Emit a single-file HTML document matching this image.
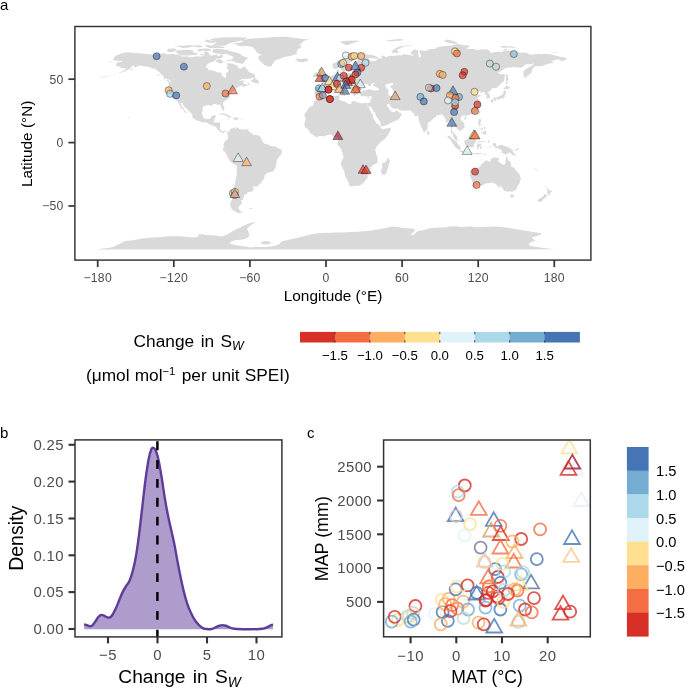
<!DOCTYPE html><html><head><meta charset="utf-8"><title>Figure</title><style>html,body{margin:0;padding:0;background:#fff}svg{display:block}text{font-family:"Liberation Sans",sans-serif}</style></head><body><div style="will-change:transform;width:685px;height:688px">
<svg width="685" height="688" viewBox="0 0 685 688">
<rect width="685" height="688" fill="#fff"/>
<clipPath id="ca"><rect x="74.9" y="26.5" width="516.0" height="233.6"/></clipPath>
<g clip-path="url(#ca)"><path d="M112.9,59.4L115.2,56.0L119.3,54.5L120.8,53.4L127.4,52.2L133.2,52.8L138.3,53.3L144.6,53.7L149.7,54.3L154.8,54.7L159.9,53.8L163.7,53.3L167.5,54.5L172.5,54.1L180.1,55.2L181.8,56.6L187.8,56.5L189.7,57.6L195.4,56.4L201.1,56.6L204.2,56.0L204.9,54.5L203.9,52.2L206.0,51.3L208.7,52.8L209.3,54.5L211.2,55.7L214.4,55.1L217.2,54.5L217.9,56.4L221.7,54.2L222.9,55.3L222.3,57.6L220.1,58.5L216.9,58.6L215.7,59.8L214.1,61.4L211.2,61.9L208.3,63.6L206.4,65.5L205.8,67.8L208.0,68.3L208.7,70.3L211.9,70.3L214.4,71.1L218.2,72.5L221.6,72.7L221.7,75.4L223.3,76.6L224.5,77.7L226.1,77.3L226.2,75.6L225.6,73.7L228.1,72.1L228.8,70.3L226.4,68.0L227.7,66.5L227.1,64.6L227.7,63.3L232.8,63.7L235.3,65.0L237.2,65.2L237.9,67.8L240.0,68.7L242.3,68.0L243.9,66.0L245.5,67.8L247.4,69.7L248.6,71.6L250.3,72.8L253.1,73.6L255.0,75.1L255.2,76.6L254.3,77.4L251.6,77.8L249.6,78.9L245.5,78.8L241.9,78.9L240.4,80.1L237.5,82.0L239.4,81.0L243.6,80.2L244.4,80.8L242.9,81.7L243.8,83.0L244.4,84.0L247.4,84.4L249.3,83.0L250.2,84.3L248.6,85.1L245.5,86.0L242.7,87.3L242.0,86.3L243.9,85.1L241.7,85.4L240.6,86.0L238.5,86.8L236.8,87.3L236.2,88.6L237.2,89.6L236.3,89.8L235.3,90.1L232.5,90.7L232.1,91.4L231.8,92.5L230.2,94.2L229.7,95.7L230.0,97.6L228.8,98.6L227.1,99.6L225.4,100.6L223.3,102.3L222.8,104.2L223.8,106.6L224.4,108.6L224.0,110.6L223.0,110.5L221.9,108.7L221.0,107.3L221.1,105.8L219.5,104.4L217.6,104.8L215.4,104.0L213.4,104.0L212.4,104.4L212.7,105.6L210.8,105.7L208.7,105.1L206.1,105.2L203.6,106.6L202.5,108.0L202.7,109.8L202.0,112.2L202.0,114.3L202.7,116.3L204.0,118.2L205.8,119.1L208.0,119.1L210.0,119.0L211.1,117.6L211.3,116.0L213.8,115.3L215.7,115.3L215.9,116.2L214.9,117.9L214.6,119.5L214.0,120.4L213.4,122.4L214.8,122.4L216.9,122.4L218.8,122.6L220.4,123.6L220.1,126.1L219.7,128.0L220.1,129.3L221.6,131.1L223.3,131.4L224.8,130.6L226.2,130.6L227.8,131.7L228.6,132.5L229.6,130.7L230.2,129.2L231.4,128.5L233.4,128.1L235.1,126.9L235.6,127.8L234.7,128.0L235.2,128.9L235.7,128.8L237.2,127.3L239.1,128.9L241.7,129.2L244.2,129.7L246.7,129.0L247.6,129.9L248.9,131.2L249.9,131.9L251.8,133.7L253.7,135.0L256.2,135.1L258.1,135.6L260.3,136.8L261.3,138.8L262.6,140.4L262.3,142.0L263.9,142.6L264.9,143.9L267.0,144.1L269.6,145.8L272.7,146.3L275.3,146.3L277.8,147.9L279.7,148.9L281.4,149.6L281.9,152.1L281.2,154.6L279.1,157.2L277.2,159.1L276.5,161.6L276.4,164.8L275.5,167.3L274.1,169.9L272.7,171.8L269.6,172.0L267.0,173.3L264.7,175.1L264.2,177.9L262.6,180.6L260.7,182.8L258.4,185.5L256.9,186.7L254.3,186.7L252.1,185.7L253.3,187.6L254.0,189.3L252.8,191.0L250.5,191.8L247.4,192.1L246.9,194.3L243.8,194.5L244.6,196.2L243.3,197.8L242.9,199.7L240.5,200.9L242.5,202.8L240.6,204.7L238.7,206.4L238.5,208.3L239.2,209.1L239.5,210.2L241.7,211.7L243.3,212.1L241.0,212.7L237.9,212.9L235.3,211.6L233.0,210.2L231.5,208.6L230.6,206.0L230.1,202.8L231.5,200.9L232.4,198.4L233.2,195.9L232.3,194.6L232.8,191.4L233.2,189.5L234.0,187.0L235.2,184.5L235.3,181.3L236.0,178.1L236.6,174.9L236.8,170.5L236.8,166.1L235.3,164.7L232.8,163.3L230.2,161.4L229.0,159.7L227.7,157.2L226.4,154.6L224.9,151.9L223.0,150.2L222.9,148.3L224.3,146.9L223.4,145.4L224.0,143.2L224.5,141.6L226.1,140.6L227.5,139.2L228.0,137.5L227.7,135.6L227.7,133.7L226.7,132.6L226.4,131.2L225.0,131.3L224.2,132.2L224.0,133.3L222.6,132.8L221.0,132.2L219.8,131.3L218.4,130.2L217.2,129.7L217.2,128.5L215.3,126.4L213.8,125.9L211.9,125.2L209.6,124.6L207.4,122.9L205.8,122.1L203.6,122.7L200.7,121.7L197.9,120.7L195.4,119.5L192.8,117.9L192.2,116.2L192.4,115.0L191.2,113.2L189.0,110.9L187.1,109.2L185.9,107.7L183.7,105.9L182.7,103.3L180.5,102.4L180.7,104.6L182.7,107.1L184.2,109.6L185.9,111.8L187.1,113.2L186.2,113.6L184.2,111.5L183.3,109.6L181.2,108.1L180.4,106.5L179.1,104.6L177.9,102.4L177.4,101.1L175.7,99.5L173.0,98.8L171.5,96.3L170.6,94.8L169.0,92.5L168.4,91.4L168.5,89.3L168.4,87.4L168.9,84.0L167.8,81.2L170.0,81.6L170.5,82.6L170.8,81.3L170.0,80.1L167.7,79.2L166.8,80.6L163.3,78.4L164.3,77.7L163.4,76.3L161.8,74.7L160.5,73.4L158.8,71.8L156.7,70.3L155.4,68.8L152.9,68.8L151.0,67.8L148.4,66.8L145.3,66.5L142.1,66.0L139.6,65.2L137.7,66.5L135.8,67.1L133.5,67.5L134.5,65.5L135.8,65.0L133.2,65.5L131.3,67.1L130.3,68.4L127.5,70.1L125.0,71.6L121.8,72.5L118.6,73.1L117.0,73.5L119.9,72.2L122.4,71.6L125.0,69.9L126.2,68.3L124.3,68.3L122.4,68.0L120.5,68.0L120.5,66.6L118.3,66.8L116.4,65.6L115.5,64.2L117.0,62.7L119.9,62.1L121.8,61.9L121.8,60.8L119.5,60.9L117.4,60.8L114.8,60.4L112.9,59.4ZM248.0,58.1L245.5,60.2L244.2,62.3L242.3,64.0L239.8,63.3L235.3,62.3L232.1,60.8L227.3,60.9L227.1,59.8L232.1,59.5L233.4,57.0L230.9,55.7L226.4,54.1L222.0,53.9L216.9,53.6L213.1,52.8L212.1,50.6L213.1,49.4L217.6,49.0L223.3,49.3L227.7,50.3L232.1,51.5L236.0,52.6L239.8,53.8L241.0,55.1L244.2,56.6L248.0,58.1ZM177.4,53.9L182.0,55.6L187.8,55.5L192.8,55.1L197.3,54.8L197.9,53.6L193.5,52.6L192.8,50.4L188.4,49.8L182.7,50.1L177.0,50.5L175.1,51.8L177.6,53.1L177.4,53.9ZM166.8,51.3L170.0,52.3L173.8,51.7L177.0,49.4L174.4,48.4L168.1,48.7L166.8,51.3ZM211.9,45.6L218.2,45.8L224.5,45.8L227.1,44.6L230.9,43.0L237.2,41.5L243.6,39.9L247.4,38.0L239.8,37.3L230.9,37.2L222.0,37.5L214.4,38.2L209.3,39.6L214.4,41.1L216.9,42.4L214.4,43.9L211.9,45.6ZM204.2,41.0L209.3,42.8L214.4,42.9L215.7,41.6L210.6,40.4L206.8,39.5L204.2,41.0ZM204.2,45.4L209.3,47.9L216.9,48.2L224.2,48.0L224.5,46.7L219.5,46.3L213.1,45.7L208.0,45.1L204.2,45.4ZM177.6,46.3L182.7,48.1L189.0,47.6L192.8,46.5L200.4,47.6L203.0,46.6L199.2,45.3L192.8,45.6L187.8,45.2L182.7,45.8L177.6,45.4L172.5,46.2L177.6,46.3ZM196.6,50.0L199.2,51.5L203.6,50.6L205.5,51.3L211.2,50.4L210.6,49.0L205.5,48.6L199.2,48.9L196.6,50.0ZM199.8,55.1L204.2,55.6L204.9,54.3L201.7,53.8ZM215.7,61.4L220.7,63.7L223.9,62.1L220.7,59.5L216.9,59.5ZM233.4,43.4L237.2,44.9L239.8,46.2L246.1,46.0L251.2,46.5L253.7,48.1L255.6,50.6L257.5,53.2L261.3,54.5L258.1,57.0L258.4,58.9L260.7,61.4L262.6,63.3L264.5,65.2L268.3,66.5L271.2,66.6L272.1,64.6L274.0,62.1L275.3,60.2L279.1,59.1L284.1,57.0L290.5,56.0L294.3,54.7L297.5,53.4L296.2,51.9L298.1,50.6L296.8,49.4L300.6,48.1L301.3,46.2L299.4,44.9L301.9,43.0L303.8,41.1L309.5,39.5L303.2,38.9L295.6,38.0L285.4,36.7L275.3,37.0L265.1,37.7L256.2,38.2L249.9,38.7L246.1,39.6L241.0,40.8L243.6,41.8L238.5,42.7L233.4,43.4ZM295.2,59.4L297.8,61.0L297.5,61.7L300.6,62.1L303.2,62.2L307.0,61.0L308.8,60.2L307.2,58.8L305.1,58.4L302.5,58.8L300.0,58.9L297.5,58.4L295.2,59.4ZM250.8,82.0L253.1,82.2L255.6,83.1L258.5,83.4L259.2,82.2L258.1,81.1L257.8,79.8L255.4,79.2L255.5,77.3L253.7,77.9L252.7,79.4L251.2,81.1L250.8,82.0ZM218.3,115.0L220.7,113.4L223.3,113.2L225.8,114.1L228.3,115.1L230.2,116.2L231.9,117.0L230.2,117.4L227.6,117.5L227.1,116.3L224.8,115.2L222.3,114.4L220.1,114.6L218.3,115.0ZM231.5,119.3L234.3,119.6L236.0,120.2L237.5,119.3L239.2,119.3L238.2,118.1L236.6,117.5L233.7,117.4L233.0,117.7L234.0,118.9L231.5,119.3ZM226.7,119.3L229.2,119.6L228.3,120.0L226.7,119.5ZM240.8,119.1L242.7,119.4L242.3,119.9L240.8,119.8ZM248.6,208.2L252.4,207.8L251.8,208.9L248.9,208.8ZM358.6,52.4L362.1,52.6L365.3,53.4L363.4,54.1L367.9,54.6L372.3,55.1L376.7,56.5L378.3,57.6L377.4,58.5L374.2,58.6L370.1,58.0L367.9,58.0L369.8,59.5L370.1,60.8L372.3,61.4L373.9,61.0L376.1,60.7L377.1,59.1L379.3,58.3L382.1,58.4L381.2,56.4L382.1,55.6L384.7,56.1L385.0,57.6L386.9,56.7L390.7,55.8L394.5,56.0L396.4,55.6L399.6,55.2L402.7,55.3L403.4,54.1L407.2,54.8L409.7,55.1L412.9,56.0L413.5,55.1L411.0,54.1L411.0,52.6L412.9,50.3L414.8,49.6L418.0,50.3L418.3,51.9L418.0,54.5L419.2,56.4L417.3,58.3L420.5,57.0L421.1,55.7L419.9,53.2L419.2,51.5L421.1,50.3L424.3,50.9L428.1,50.6L428.1,49.3L432.5,49.0L436.3,48.4L436.3,47.4L441.4,46.6L446.5,46.1L451.6,45.6L454.7,44.6L458.3,44.1L461.1,44.6L463.0,45.3L467.4,45.3L470.0,46.5L466.1,48.4L469.3,49.0L473.1,49.1L476.9,49.9L482.6,49.3L487.1,49.4L489.6,50.6L489.9,52.6L492.8,52.7L495.3,51.9L498.5,51.8L502.3,51.9L503.6,50.5L507.4,50.4L511.8,50.9L516.2,51.7L519.4,52.7L523.9,52.4L528.3,53.2L528.9,54.2L530.8,54.7L535.3,54.3L539.1,53.8L542.2,54.8L542.2,53.7L546.1,54.1L549.9,54.2L554.3,55.2L554.3,60.2L552.4,60.7L550.9,60.4L552.4,62.1L553.7,63.2L550.5,63.3L546.7,64.2L544.1,65.2L542.0,66.5L539.1,65.9L535.9,66.2L534.0,66.8L533.1,68.4L531.5,69.3L532.7,70.6L531.8,71.6L531.2,72.8L528.9,75.0L527.0,75.6L527.0,76.9L524.9,77.9L523.6,75.4L523.3,72.2L524.5,69.7L527.0,68.7L528.9,67.1L531.2,66.1L533.1,64.5L534.0,63.3L530.2,64.5L528.7,64.2L525.8,64.3L522.6,67.1L520.7,67.6L517.5,67.5L515.0,67.0L511.2,67.4L507.4,67.4L504.8,68.4L502.3,69.9L499.8,71.8L497.5,73.1L500.1,74.1L501.7,74.5L503.9,74.1L505.2,75.1L504.4,77.3L504.2,79.2L503.9,81.1L501.7,83.0L499.1,85.5L497.2,87.4L494.7,88.3L493.4,87.8L491.8,88.8L490.5,90.3L488.7,91.9L487.7,92.4L488.7,93.5L490.1,95.4L490.1,97.3L489.0,98.2L487.7,98.6L486.3,98.7L486.3,97.2L486.7,95.7L486.1,94.8L484.5,94.5L484.9,92.6L483.6,92.0L482.0,92.4L480.1,93.3L480.7,91.2L479.7,90.7L477.9,92.0L475.7,92.9L475.3,93.8L476.8,95.0L479.2,94.7L481.2,95.2L480.1,96.1L478.4,96.9L477.2,98.2L478.4,99.2L479.2,101.0L480.5,102.4L480.5,103.5L479.5,104.3L480.7,104.8L480.2,106.5L478.8,108.2L477.7,109.9L476.3,111.4L474.4,112.8L472.5,113.7L470.6,114.2L468.7,115.0L466.5,115.6L465.9,116.9L465.1,116.0L464.9,115.2L463.2,115.2L461.5,116.5L460.2,118.1L461.1,120.0L462.7,121.7L464.0,123.2L464.6,125.5L464.5,127.6L463.0,128.9L461.5,129.4L461.1,130.6L459.4,131.6L459.0,130.2L458.5,129.4L457.3,129.2L456.5,127.8L455.4,126.7L454.0,125.6L452.8,125.7L452.7,127.4L451.9,128.9L451.9,130.8L453.1,132.1L453.5,133.3L454.7,134.0L455.7,134.9L456.9,136.5L457.1,138.2L457.6,139.6L458.2,140.8L457.3,141.0L456.0,140.1L454.5,138.9L453.6,137.3L453.2,135.6L453.1,134.4L452.2,133.7L451.1,132.2L450.7,131.2L451.2,129.7L451.1,127.6L451.2,126.1L450.3,124.8L449.9,122.9L449.8,121.5L448.8,121.2L447.1,122.6L445.7,122.3L445.9,120.4L445.5,118.9L444.6,117.5L443.3,116.2L442.6,114.7L441.7,113.9L440.8,114.6L439.1,115.0L437.6,115.1L436.3,115.6L436.2,116.7L435.5,117.4L433.8,118.1L432.5,119.5L430.6,121.2L429.4,122.1L427.8,122.8L427.6,124.8L427.8,125.9L427.3,128.0L427.2,129.5L426.4,129.5L426.1,130.7L425.2,131.3L424.3,132.5L423.2,131.3L422.6,129.9L421.8,128.0L420.9,126.2L420.4,124.2L419.3,122.4L418.8,120.8L418.5,118.8L418.2,117.0L418.3,115.3L417.6,114.8L417.6,116.0L415.9,116.3L414.7,115.7L413.5,114.3L415.0,113.6L413.4,113.2L412.5,112.5L411.5,111.4L410.5,110.4L407.8,110.6L404.3,110.8L401.5,110.4L399.3,110.0L398.0,108.4L396.4,108.6L395.1,108.9L393.2,108.4L391.3,107.2L390.2,105.8L389.5,104.3L388.1,104.0L386.9,104.6L386.9,105.6L387.8,106.8L388.8,108.1L389.7,109.1L389.8,110.4L390.4,111.1L390.8,109.8L391.4,109.8L391.3,111.4L391.7,112.2L392.8,111.9L394.7,112.0L396.4,110.4L397.4,109.4L397.5,111.0L398.3,112.2L400.2,112.7L401.8,114.1L401.3,115.5L400.2,116.7L399.3,118.5L398.0,119.8L396.1,120.5L394.5,121.0L392.3,122.3L389.4,123.6L387.8,124.8L385.6,125.6L383.5,126.1L381.8,126.6L380.9,125.7L380.4,123.8L380.3,121.9L379.3,120.4L378.3,118.9L377.4,117.6L376.1,116.2L375.6,114.7L375.1,112.8L373.6,111.8L373.2,110.5L372.0,108.9L370.9,107.1L370.3,105.3L369.8,106.8L369.4,107.3L368.5,106.7L367.7,105.3L367.1,104.7L367.5,106.1L368.6,107.3L369.8,109.6L371.0,112.2L371.3,113.4L372.8,114.7L373.1,116.0L373.2,117.9L373.6,118.9L374.8,119.8L375.8,122.6L376.7,123.6L378.3,124.1L379.9,125.9L380.8,126.7L380.3,127.9L381.2,128.1L382.4,129.4L384.3,129.0L386.2,128.5L388.1,128.3L390.9,127.4L390.8,129.3L390.4,130.6L389.2,132.5L387.9,135.0L386.6,137.0L384.6,139.2L382.4,140.7L380.5,142.2L379.0,144.1L377.7,145.5L376.7,146.4L375.7,148.4L375.2,150.5L376.0,152.1L375.8,153.6L376.5,155.3L377.4,156.0L377.4,158.5L377.7,161.0L377.0,162.9L375.5,164.0L373.2,164.9L371.4,166.7L370.1,167.7L370.6,169.5L371.0,171.1L371.0,173.0L369.5,174.1L367.6,175.2L367.7,176.8L367.1,178.9L365.7,180.1L364.3,182.2L362.1,184.1L360.2,185.2L358.6,185.7L355.8,185.7L353.9,186.0L351.4,186.7L349.8,186.1L349.3,185.5L348.8,184.1L349.2,182.9L347.9,181.3L346.9,179.0L345.4,176.8L344.8,174.3L344.3,171.5L343.1,169.0L341.7,166.4L341.0,164.8L341.0,162.9L341.6,160.6L343.1,158.5L343.5,156.6L342.9,154.4L342.2,152.1L341.5,150.2L341.5,149.2L340.2,147.7L338.7,146.2L337.8,144.9L337.2,143.6L338.0,142.3L338.2,141.1L338.4,139.4L338.3,138.0L337.2,136.9L335.1,137.0L333.6,137.1L332.6,135.9L331.6,134.6L329.6,134.6L327.5,135.0L325.6,135.8L323.6,136.5L321.9,136.1L319.9,136.0L318.4,136.5L316.5,137.0L314.6,136.3L313.3,135.0L311.5,134.0L310.1,133.1L309.3,131.6L308.9,130.3L307.4,128.9L306.7,128.4L305.5,127.4L304.8,126.7L304.7,125.2L303.9,124.0L304.9,122.4L305.3,120.4L305.6,118.5L305.1,116.5L304.4,116.0L304.7,114.4L305.7,112.5L307.0,111.1L307.6,109.6L309.1,107.8L309.8,107.1L312.0,106.1L313.3,105.2L313.7,103.9L313.6,102.6L314.3,101.3L315.9,100.1L317.4,99.5L318.4,97.8L318.6,97.2L319.4,97.2L320.9,97.8L322.4,98.0L323.5,98.1L324.7,97.3L326.3,96.9L327.9,96.3L329.8,95.8L332.3,95.9L334.9,95.7L337.2,95.7L338.7,95.3L340.0,95.7L339.3,96.4L339.7,97.8L338.8,99.1L339.7,99.9L340.6,100.6L342.2,100.9L344.0,101.3L345.3,101.6L345.8,102.6L347.6,103.3L349.5,104.0L350.7,104.0L351.4,103.3L351.5,101.8L352.9,101.0L354.5,101.0L355.6,101.8L357.5,102.1L358.1,102.6L360.2,103.0L362.8,103.4L364.4,102.9L365.3,102.6L366.6,103.2L367.9,103.2L369.5,102.9L370.0,102.0L370.4,100.7L371.2,99.2L371.5,97.8L371.7,96.9L371.9,96.1L370.9,96.3L369.6,96.2L368.5,96.8L367.2,96.8L366.0,96.1L364.8,95.9L364.0,96.6L362.8,96.2L361.5,96.1L360.6,95.7L360.6,94.7L359.5,94.0L360.0,93.1L360.0,92.5L359.2,92.1L359.6,91.5L360.9,91.5L362.8,91.4L363.0,90.5L364.7,90.3L366.0,90.2L367.2,89.6L368.5,89.3L370.4,89.3L371.0,89.8L372.3,90.3L373.6,90.6L374.8,90.7L376.7,90.6L378.6,90.0L378.8,88.7L378.0,87.8L376.5,87.4L374.8,86.4L373.6,85.9L372.7,85.1L373.9,84.5L374.4,83.6L375.7,82.7L374.2,82.7L372.9,83.2L370.8,83.9L370.4,84.8L372.2,85.3L371.0,85.5L369.1,86.3L368.5,86.0L368.6,85.4L367.2,85.0L368.5,84.3L366.6,84.0L366.0,83.5L365.1,83.8L363.8,85.0L362.5,86.3L362.1,87.4L361.5,88.1L361.1,88.7L361.6,89.6L362.8,90.2L361.8,90.6L360.9,90.6L359.7,91.1L359.1,91.5L359.2,90.9L357.7,90.7L356.4,90.9L356.7,91.6L355.9,91.9L354.9,91.4L354.8,92.1L355.4,92.9L355.2,93.4L356.4,94.3L355.9,94.7L355.3,95.0L355.4,96.2L354.7,95.9L354.3,96.3L353.6,95.9L353.1,95.0L353.0,94.2L352.6,93.4L351.7,92.5L350.7,91.5L350.6,90.2L350.5,89.3L349.5,88.7L347.8,88.1L346.3,87.4L345.3,86.4L344.4,85.3L343.4,85.7L343.2,84.8L341.7,85.0L341.6,86.3L343.1,87.3L343.8,88.6L345.0,89.3L346.3,89.5L346.3,90.1L348.2,90.9L349.5,91.7L349.2,92.1L347.6,91.2L347.1,92.1L347.7,93.1L346.9,93.9L346.3,94.5L345.9,94.4L346.3,93.4L345.8,91.9L344.8,91.1L343.8,90.9L342.2,90.1L340.6,89.0L339.3,88.1L338.9,86.9L337.4,86.3L336.1,86.9L334.9,87.3L333.9,87.9L332.3,87.7L331.1,87.4L330.1,87.8L330.1,89.5L328.5,90.2L327.0,90.9L326.0,91.9L325.6,92.6L326.3,93.4L325.2,94.7L323.7,95.8L322.2,96.1L320.3,96.2L319.0,96.9L318.0,96.1L317.1,95.4L315.9,95.7L314.7,95.7L315.0,94.0L314.1,93.5L314.6,92.1L315.0,90.6L314.8,89.0L314.3,87.9L315.9,87.2L317.8,87.3L320.3,87.6L322.4,87.6L324.0,87.4L324.5,86.0L324.6,84.8L324.5,83.9L323.2,82.9L322.2,82.2L320.3,81.8L320.0,81.1L321.9,80.7L324.0,81.0L324.0,79.7L324.6,79.9L326.3,79.8L327.6,79.1L328.0,78.0L329.2,77.8L330.4,77.3L331.5,76.4L332.1,75.4L333.0,74.9L334.9,74.9L336.1,74.6L337.2,74.1L336.9,72.8L336.3,72.1L336.4,70.7L337.2,70.1L338.7,69.5L339.4,69.4L339.1,70.8L339.7,71.2L338.7,72.1L338.3,72.7L338.7,73.4L340.0,73.7L339.7,74.2L341.2,73.9L342.0,73.6L343.5,74.0L344.1,74.4L346.3,73.7L348.2,73.1L349.6,73.2L350.7,73.6L352.0,73.2L352.8,72.5L352.6,70.9L353.3,69.7L354.7,69.4L355.8,70.3L356.8,69.9L356.8,68.7L355.8,68.2L355.8,67.4L357.7,67.1L360.2,67.1L362.1,66.9L364.0,66.5L362.8,65.9L360.9,65.9L359.0,66.0L357.1,66.5L355.2,66.6L353.9,66.0L353.0,65.5L353.1,64.0L353.3,62.7L355.2,61.4L357.1,60.4L358.1,59.8L357.1,59.1L354.5,59.1L353.3,59.8L353.0,60.8L352.0,61.8L350.1,62.4L348.7,63.3L347.9,64.6L347.8,65.5L349.5,66.2L349.8,66.9L348.6,67.9L347.2,69.0L347.1,70.3L346.3,71.3L344.4,71.6L344.0,72.3L342.5,72.3L342.2,71.3L341.2,70.3L340.6,69.0L340.2,67.9L339.4,67.1L338.7,67.8L337.4,68.4L336.1,68.9L334.6,69.0L333.1,68.2L332.6,67.1L332.3,65.9L332.3,64.6L332.7,63.7L334.2,63.1L336.1,62.3L338.0,61.8L339.7,60.8L341.2,59.5L342.5,58.3L344.4,57.0L345.0,56.1L346.9,55.3L348.8,54.5L350.7,53.8L353.3,53.4L355.8,52.8L358.6,52.4ZM318.8,79.2L320.3,78.8L321.6,78.8L323.5,78.4L326.0,78.2L327.8,77.7L327.0,77.2L328.2,75.9L326.4,75.5L326.3,74.7L325.4,73.6L324.1,72.8L323.7,72.0L322.2,71.6L322.6,71.1L323.5,69.5L321.6,69.4L320.7,69.5L321.9,68.3L319.7,68.3L318.6,69.5L318.1,70.8L319.0,71.6L319.4,72.3L319.9,73.1L321.6,73.0L322.2,74.1L322.1,74.9L320.4,75.0L320.7,76.0L319.4,76.8L320.7,77.2L322.2,77.4L320.5,77.8L318.8,79.2ZM313.3,77.2L315.5,77.0L318.0,76.4L318.4,75.0L318.9,73.5L318.1,72.6L316.1,72.5L315.2,73.5L313.3,73.9L314.0,75.1L312.9,76.4L313.3,77.2ZM340.0,41.6L343.1,43.7L346.3,45.3L348.8,44.6L352.6,43.3L356.4,42.0L360.2,41.0L355.2,40.5L348.8,40.8L343.8,41.1L340.0,41.6ZM391.3,51.8L393.2,52.8L396.4,53.1L398.9,52.9L397.7,51.3L397.0,49.6L399.6,48.4L403.4,46.8L408.4,45.8L412.9,45.2L410.3,44.9L404.6,45.7L399.6,46.5L396.4,47.7L393.9,49.4L392.0,50.9L391.3,51.8ZM385.6,40.9L392.0,41.3L399.6,40.8L404.6,40.1L399.6,39.1L389.4,40.1ZM446.5,42.3L450.3,43.3L454.1,43.7L459.2,43.2L456.0,41.9L452.8,40.9L447.8,39.6L444.0,40.5L446.5,42.3ZM499.8,47.0L503.6,47.7L508.6,47.5L513.7,47.7L516.9,47.2L512.4,46.5L507.4,46.2L502.3,46.1L499.8,47.0ZM503.6,49.4L507.4,49.8L506.7,48.9L504.2,48.7ZM552.4,52.7L554.3,52.6L554.3,51.9L552.8,52.0ZM506.1,84.3L507.9,83.4L507.1,82.0L507.6,80.2L509.3,80.5L508.0,78.6L507.7,76.6L507.6,75.0L507.1,73.7L506.1,74.7L505.8,76.6L506.2,79.2L506.1,81.1L506.1,82.6L506.1,84.3ZM503.6,90.0L505.1,88.8L507.4,89.3L510.5,87.7L509.0,86.8L507.4,86.2L505.8,85.0L505.5,87.4L503.9,87.8L503.6,90.0ZM492.0,99.5L493.4,99.6L495.3,99.0L497.2,98.7L498.1,100.1L499.5,99.0L501.0,98.6L502.0,98.6L503.6,98.1L504.6,97.2L504.8,95.0L505.5,93.8L506.1,92.4L505.5,90.2L503.9,90.5L503.6,92.1L503.2,93.8L501.7,95.2L500.1,95.9L499.5,95.2L498.5,96.9L496.6,97.4L494.7,97.6L492.8,98.6L492.0,99.5ZM490.6,100.1L492.1,99.6L493.2,100.4L492.8,102.6L491.6,103.2L491.1,102.0L490.5,101.0L490.6,100.1ZM494.0,99.6L496.6,99.2L496.2,100.2L494.7,101.0L493.9,100.4ZM479.5,110.6L480.7,110.9L480.0,112.8L479.3,114.7L478.4,113.7L478.6,112.2L479.5,110.6ZM463.9,118.1L465.5,117.2L466.8,117.7L466.0,119.1L464.6,119.4L463.9,118.9ZM478.8,119.1L481.0,119.3L481.1,121.0L480.4,122.6L480.2,124.2L481.4,124.8L483.3,126.1L483.3,126.6L481.7,125.4L480.1,125.2L479.1,125.0L478.8,124.1L478.2,123.2L478.1,122.1L478.7,120.7L478.8,119.1ZM480.7,133.7L481.1,132.5L482.6,131.7L483.9,131.8L485.2,130.3L486.2,131.4L486.4,133.3L485.8,134.6L485.0,135.2L484.5,134.0L483.3,134.4L483.0,133.1L481.7,133.2L480.7,133.7ZM483.6,126.7L484.9,126.9L485.4,128.4L484.8,129.5L484.3,129.7L483.8,128.3ZM480.7,127.6L482.3,128.0L482.6,129.3L482.4,130.8L481.4,130.6L481.5,129.3L480.6,129.0ZM474.6,131.9L476.3,130.6L477.6,128.9L477.2,129.7L475.9,131.3L474.8,132.2ZM478.7,125.6L480.0,125.7L479.7,127.0L479.2,126.7ZM464.2,140.6L465.9,140.4L467.2,139.3L469.3,138.5L470.6,136.9L472.2,135.9L474.0,133.7L475.3,134.6L477.2,136.0L475.9,137.1L475.3,138.2L475.4,139.7L476.8,141.3L475.4,141.7L475.0,143.2L473.8,144.5L473.8,146.0L473.1,147.3L471.3,147.8L470.0,146.8L468.0,146.9L466.5,146.3L465.5,144.5L464.5,143.2L464.2,142.0L464.2,140.6ZM446.9,135.5L448.4,136.0L449.9,136.1L450.9,137.5L452.6,138.8L453.8,139.8L455.4,140.7L457.0,142.0L457.6,143.6L458.5,144.9L460.4,146.4L460.4,148.3L460.2,150.0L458.7,149.8L457.3,148.7L455.7,147.7L454.5,146.0L453.3,144.1L451.8,142.2L451.1,140.4L449.7,139.0L448.1,137.8L446.9,135.5ZM459.4,151.2L460.7,150.1L462.3,150.6L463.6,151.1L466.1,151.2L466.5,150.7L468.7,151.4L471.2,152.4L471.2,153.6L469.1,153.3L466.8,153.1L464.2,152.5L462.3,152.4L460.9,152.0L459.4,151.2ZM471.9,153.0L473.8,153.1L475.0,153.1L476.9,153.3L478.8,153.1L482.0,153.0L481.7,153.8L478.8,153.9L476.9,153.9L474.4,154.0L473.1,153.9L471.9,153.6ZM476.9,154.6L478.8,154.8L479.2,155.5L477.3,155.2ZM482.6,155.7L483.9,154.4L485.2,153.8L487.3,153.3L486.4,154.0L484.5,155.0L483.3,155.8ZM477.4,149.6L478.7,149.7L478.6,147.7L478.7,146.2L479.7,146.4L480.5,148.7L481.7,148.9L482.3,147.7L481.1,146.8L480.5,145.0L482.4,143.9L481.7,143.6L479.8,143.9L478.6,143.7L478.3,142.6L479.5,142.0L482.0,142.0L483.9,142.1L484.8,140.7L483.3,141.2L481.4,141.3L479.5,141.0L478.2,141.6L477.9,142.9L477.3,144.5L476.7,146.2L477.3,147.4L477.4,149.6ZM487.7,140.1L488.7,140.3L489.2,142.0L488.3,143.6L488.0,142.0L487.7,140.1ZM488.3,146.7L490.9,146.3L491.9,147.3L489.6,147.0ZM485.8,146.7L487.2,146.7L487.1,147.4L486.1,147.3ZM492.1,143.6L494.0,143.1L496.0,143.6L496.3,145.8L497.5,146.8L499.1,145.5L500.8,144.5L502.9,145.3L504.8,145.9L507.4,146.9L509.3,147.5L510.9,148.9L512.4,150.1L513.5,150.5L512.4,151.2L513.5,152.7L514.5,154.0L516.9,155.9L515.0,155.7L513.1,155.3L511.4,153.8L509.3,152.4L508.0,153.1L507.4,154.1L504.8,154.3L502.9,153.0L501.0,153.1L502.0,151.7L501.0,149.6L499.1,148.7L497.2,148.3L495.3,147.7L494.4,147.0L494.4,146.2L492.8,145.1L492.1,143.6ZM514.3,149.7L516.2,149.3L518.1,148.3L519.2,148.1L518.5,149.6L516.9,150.5L515.4,150.5ZM470.2,170.5L470.8,170.2L472.5,169.2L474.1,168.6L476.9,168.0L479.5,167.3L481.0,165.4L481.1,164.2L482.9,163.3L483.9,162.0L485.6,160.7L487.1,160.2L488.7,161.5L490.5,161.4L490.5,159.7L491.6,158.3L494.0,157.9L493.3,156.9L495.3,157.6L497.9,157.9L499.6,158.1L498.7,159.5L498.0,161.5L499.8,162.6L501.7,163.9L502.9,164.8L504.6,164.8L505.5,162.3L505.6,159.7L506.1,157.2L506.7,156.3L507.7,158.5L508.3,160.6L510.3,161.6L510.9,163.9L511.4,166.4L513.1,167.3L514.7,168.3L516.0,170.8L517.3,171.5L518.5,173.3L520.0,174.9L520.3,176.8L520.8,178.7L520.0,181.3L519.4,183.8L517.9,185.5L516.9,187.6L516.2,189.8L514.0,190.7L511.8,192.1L509.9,191.2L508.0,191.8L506.1,191.3L504.2,190.8L503.2,189.5L502.9,188.3L501.3,187.8L501.7,186.6L500.8,185.1L500.4,186.7L499.5,187.4L498.2,186.7L497.2,185.5L496.0,184.2L494.0,183.2L492.1,182.6L490.2,182.7L488.3,183.3L485.8,183.6L483.9,184.5L482.6,185.6L480.1,185.6L478.2,185.6L475.7,187.0L473.1,186.9L472.0,186.2L472.5,184.5L472.9,183.2L472.2,181.3L471.6,179.4L470.8,177.5L470.0,175.6L470.0,173.7L470.2,170.5ZM509.5,194.2L511.8,194.7L514.1,194.5L514.0,195.9L513.5,197.3L511.8,197.9L510.5,196.9L510.2,195.6L509.5,194.2ZM545.0,186.2L546.1,187.0L547.3,188.6L548.6,188.9L549.2,190.3L550.7,190.8L552.4,190.4L551.8,191.8L550.5,192.7L549.9,194.3L548.3,195.4L547.6,195.0L548.1,193.6L546.7,192.6L547.6,191.0L547.3,189.5L545.7,187.4L545.0,186.2ZM545.0,194.0L546.4,194.6L547.1,195.5L545.7,197.1L545.2,198.2L543.3,199.0L542.5,200.8L541.0,201.7L539.3,201.7L537.3,200.9L538.1,199.7L539.5,198.5L541.6,197.4L543.3,196.1L544.1,194.6L545.0,194.0ZM534.0,168.1L535.9,169.2L537.8,170.9L536.8,170.9L534.6,169.2ZM388.5,157.8L389.4,159.7L389.9,162.3L389.0,162.9L388.8,164.8L387.9,168.0L386.9,171.1L385.9,174.1L383.7,174.9L382.1,174.1L381.2,172.4L380.9,170.5L381.8,168.6L382.4,167.3L381.8,164.8L382.4,163.1L384.7,162.6L386.2,161.4L386.9,159.7L388.5,157.8ZM427.3,130.2L428.5,131.2L429.7,133.1L429.4,134.4L428.2,135.1L427.5,134.7L427.1,132.5L427.3,130.2ZM341.9,94.4L343.5,94.3L345.8,94.0L345.3,95.3L345.2,96.1L343.8,95.7L341.9,94.9ZM336.4,90.7L337.7,90.3L338.4,91.2L338.2,92.9L336.8,93.3L336.7,92.0ZM336.9,88.8L337.9,88.1L338.2,89.3L337.7,90.1L337.0,89.7ZM355.8,97.4L357.7,97.7L359.4,97.8L359.0,98.2L357.1,98.3L355.8,98.0ZM367.0,98.2L367.9,97.8L369.8,97.3L369.1,98.2L368.5,98.6L367.2,98.6ZM349.0,70.3L350.1,69.2L349.8,69.9ZM340.0,72.0L341.9,71.6L341.6,72.6L340.2,72.6ZM329.0,92.4L330.3,92.1L329.9,92.8ZM554.2,55.2L556.8,55.8L560.6,57.1L564.4,57.6L567.0,58.6L566.3,59.4L563.8,60.8L562.5,61.0L560.0,60.4L559.4,59.5L556.2,59.4L554.9,59.9L554.2,60.2ZM554.3,52.6L556.8,52.4L557.5,52.0L554.3,51.9ZM108.2,62.2L111.7,62.4L111.9,61.9L108.5,61.7ZM113.8,66.2L115.7,66.6L115.7,66.0ZM130.0,69.9L132.6,69.8L132.8,69.0L131.3,68.9ZM111.7,75.6L113.6,75.0L115.1,74.1L116.7,73.5L117.4,73.2L114.8,74.6ZM100.2,77.2L102.8,76.9L105.3,76.5L107.9,76.3L110.4,75.8L110.4,75.4L107.9,75.9L105.3,76.1L102.8,76.5L100.2,76.8ZM163.3,78.3L166.2,78.6L169.4,81.3L167.5,81.0L164.3,79.4ZM157.3,74.0L158.8,74.1L159.6,76.3L158.2,75.4ZM128.1,117.0L129.4,117.5L128.7,118.5L128.1,117.9ZM247.5,129.0L248.6,128.9L248.6,129.8L247.5,129.8ZM97.7,249.3L102.8,248.6L107.9,248.1L112.9,247.0L116.7,245.3L119.3,244.1L121.8,242.8L125.6,241.0L130.7,240.6L135.8,239.8L140.8,238.7L145.9,238.1L152.2,237.5L159.9,237.2L167.5,236.2L173.8,236.3L180.1,236.2L185.2,236.7L191.6,237.5L196.6,237.2L199.2,235.6L197.9,234.6L201.7,234.2L205.5,234.9L211.9,235.2L216.9,235.8L220.7,236.5L224.5,235.4L227.1,234.4L230.6,232.4L233.7,230.4L237.2,228.8L240.9,227.3L244.2,225.4L247.0,224.2L251.2,222.8L255.2,221.9L254.3,223.1L251.8,224.4L249.9,225.7L248.6,227.3L246.7,228.8L248.0,230.7L248.6,232.6L249.3,234.6L249.0,236.5L247.4,237.7L243.9,239.2L239.8,239.8L234.7,240.3L230.9,241.5L229.6,243.4L233.4,244.7L239.8,245.7L246.1,246.6L250.0,247.4L256.2,247.1L262.6,246.9L268.9,246.7L274.0,246.0L277.8,244.7L279.7,243.6L281.7,241.5L286.7,240.3L292.0,239.1L298.1,237.7L302.5,236.5L306.3,235.4L310.8,234.6L314.5,233.8L318.4,233.3L322.6,233.0L330.1,232.8L336.1,232.5L341.2,232.4L350.4,232.1L357.7,231.8L366.8,230.9L371.7,230.5L377.0,229.6L383.1,228.6L386.9,227.8L391.3,226.8L394.5,226.6L397.4,226.9L402.1,227.8L405.9,228.2L411.0,228.6L414.1,228.8L414.8,230.7L412.9,232.6L410.7,234.7L412.2,235.2L414.8,233.9L415.8,232.4L418.6,231.1L421.1,230.6L426.1,229.4L430.0,228.2L435.1,227.8L442.4,227.6L446.5,227.3L450.3,226.6L456.6,226.2L460.4,227.1L465.5,226.7L470.2,226.2L474.4,227.1L478.2,227.2L483.3,226.9L490.6,226.8L494.7,226.6L498.5,226.7L503.6,227.3L511.0,228.3L516.2,229.2L521.3,229.9L527.4,230.9L531.5,231.8L536.5,232.4L541.7,233.3L541.0,234.6L538.7,235.4L534.6,236.8L531.5,237.6L533.4,239.2L535.6,240.5L532.7,241.5L530.4,242.5L528.9,244.1L529.4,245.7L534.0,246.6L541.7,247.7L548.0,248.5L554.3,249.3L528.9,249.5L478.2,249.5L402.1,249.5L326.0,249.5L288.0,249.5L249.9,249.5L173.8,249.5L97.7,249.4ZM261.3,241.8L266.4,241.0L270.8,242.3L270.2,243.8L265.1,244.6L261.3,243.8ZM197.9,233.9L203.0,233.7L204.2,234.6L199.2,234.7ZM385.6,85.8L385.4,84.5L387.5,83.9L388.8,83.5L390.7,83.0L392.6,83.1L393.5,83.9L393.0,85.0L391.3,85.3L390.7,86.2L389.8,86.4L391.1,87.8L392.6,88.7L393.0,90.0L392.8,90.9L393.9,91.9L393.2,93.1L394.4,95.0L392.6,95.9L390.7,96.1L389.4,95.3L388.1,94.8L388.0,93.4L388.7,91.6L389.0,91.1L388.1,90.0L386.9,88.7L386.2,87.4L385.6,85.8Z" fill="#D9D9D9" fill-rule="evenodd"/></g>
<g stroke="#000" stroke-opacity="0.7" stroke-width="0.55" fill-opacity="0.68">
<circle cx="156.6" cy="56.2" r="3.55" fill="#4575B4"/>
<circle cx="183.9" cy="66.7" r="3.55" fill="#4575B4"/>
<circle cx="168.7" cy="90.3" r="3.55" fill="#FDAE61"/>
<circle cx="170.1" cy="93.8" r="3.55" fill="#ABD9E9"/>
<circle cx="176.2" cy="95.4" r="3.55" fill="#4575B4"/>
<circle cx="206.8" cy="86.1" r="3.55" fill="#FDAE61"/>
<circle cx="225.5" cy="93.5" r="3.55" fill="#F46D43"/>
<polygon points="232.5,85.2 227.6,93.8 237.4,93.8" fill="#F46D43"/>
<polygon points="238.2,152.9 233.2,161.5 243.1,161.5" fill="#E0F3F8"/>
<polygon points="246.6,157.1 241.7,165.7 251.5,165.7" fill="#FDAE61"/>
<circle cx="232.8" cy="193.2" r="3.55" fill="#C9CFCF"/>
<circle cx="234.9" cy="191.8" r="3.55" fill="#FEE090"/>
<circle cx="234.7" cy="195.0" r="3.55" fill="#D9A89A"/>
<polygon points="234.9,188.9 230.0,197.5 239.8,197.5" fill="#D9A89A"/>
<polygon points="337.9,130.9 332.9,139.5 342.8,139.5" fill="#A51431"/>
<polygon points="363.0,164.7 358.1,173.3 367.9,173.3" fill="#D73027"/>
<polygon points="366.0,165.0 361.1,173.6 370.9,173.6" fill="#D73027"/>
<circle cx="341.3" cy="64.0" r="3.55" fill="#74ADD1"/>
<circle cx="357.4" cy="72.5" r="3.55" fill="#4575B4"/>
<circle cx="319.0" cy="88.2" r="3.55" fill="#74ADD1"/>
<circle cx="345.9" cy="55.4" r="3.55" fill="#E0F3F8"/>
<circle cx="351.7" cy="56.6" r="3.55" fill="#FDAE61"/>
<circle cx="354.1" cy="55.9" r="3.55" fill="#FEE090"/>
<circle cx="361.2" cy="56.1" r="3.55" fill="#FDAE61"/>
<circle cx="365.5" cy="62.8" r="3.55" fill="#ABD9E9"/>
<circle cx="343.0" cy="62.8" r="3.55" fill="#FEE090"/>
<circle cx="348.9" cy="67.6" r="3.55" fill="#D73027"/>
<circle cx="361.2" cy="67.8" r="3.55" fill="#D73027"/>
<circle cx="355.4" cy="74.4" r="3.55" fill="#D73027"/>
<polygon points="320.0,72.8 315.1,81.4 324.9,81.4" fill="#D73027"/>
<polygon points="321.6,67.1 316.7,75.7 326.6,75.7" fill="#D9A066"/>
<circle cx="325.2" cy="78.0" r="3.55" fill="#4575B4"/>
<polygon points="337.5,72.0 332.6,80.6 342.4,80.6" fill="#4575B4"/>
<circle cx="340.4" cy="78.2" r="3.55" fill="#E0F3F8"/>
<circle cx="343.7" cy="75.8" r="3.55" fill="#D73027"/>
<polygon points="350.8,74.8 345.9,83.4 355.8,83.4" fill="#D73027"/>
<circle cx="351.7" cy="79.6" r="3.55" fill="#D73027"/>
<polygon points="347.5,76.8 342.6,85.4 352.4,85.4" fill="#D73027"/>
<circle cx="346.0" cy="81.5" r="3.55" fill="#D73027"/>
<polygon points="329.4,76.1 324.4,84.7 334.3,84.7" fill="#FEE090"/>
<polygon points="332.3,81.3 327.4,89.9 337.2,89.9" fill="#FEE090"/>
<circle cx="340.8" cy="84.4" r="3.55" fill="#E0F3F8"/>
<circle cx="337.0" cy="83.9" r="3.55" fill="#D73027"/>
<polygon points="345.6,79.8 340.7,88.4 350.6,88.4" fill="#4575B4"/>
<polygon points="355.4,60.9 350.4,69.5 360.3,69.5" fill="#4575B4"/>
<polygon points="360.3,79.1 355.4,87.7 365.2,87.7" fill="#E0F3F8"/>
<circle cx="356.5" cy="89.6" r="3.55" fill="#F46D43"/>
<polygon points="355.5,84.2 350.6,92.8 360.4,92.8" fill="#F46D43"/>
<polygon points="339.4,83.8 334.4,92.4 344.3,92.4" fill="#FDAE61"/>
<polygon points="344.6,85.6 339.7,94.2 349.6,94.2" fill="#56789F"/>
<circle cx="322.3" cy="89.1" r="3.55" fill="#ABD9E9"/>
<polygon points="322.3,82.9 317.4,91.5 327.2,91.5" fill="#ABD9E9"/>
<circle cx="328.5" cy="89.6" r="3.55" fill="#D73027"/>
<circle cx="328.5" cy="89.6" r="3.55" fill="#D73027"/>
<circle cx="319.5" cy="96.5" r="3.55" fill="#F46D43"/>
<circle cx="322.8" cy="95.3" r="3.55" fill="#8C8FB8"/>
<circle cx="329.9" cy="99.1" r="3.55" fill="#D73027"/>
<circle cx="329.9" cy="99.1" r="3.55" fill="#D73027"/>
<polygon points="395.2,91.0 390.2,99.6 400.1,99.6" fill="#D9A066"/>
<circle cx="454.9" cy="51.4" r="3.55" fill="#FEE090"/>
<circle cx="456.9" cy="53.4" r="3.55" fill="#F46D43"/>
<circle cx="513.8" cy="54.0" r="3.55" fill="#8CC0DF"/>
<circle cx="489.8" cy="63.6" r="3.55" fill="#BFD9CC"/>
<circle cx="496.0" cy="66.7" r="3.55" fill="#BFD9CC"/>
<circle cx="439.8" cy="73.8" r="3.55" fill="#FDAE61"/>
<circle cx="442.6" cy="74.9" r="3.55" fill="#FDAE61"/>
<circle cx="464.3" cy="71.8" r="3.55" fill="#D73027"/>
<circle cx="462.7" cy="75.3" r="3.55" fill="#D73027"/>
<circle cx="431.0" cy="88.5" r="3.55" fill="#D73027"/>
<circle cx="428.9" cy="87.7" r="3.55" fill="#C9CFCF"/>
<circle cx="436.5" cy="88.1" r="3.55" fill="#4575B4"/>
<circle cx="420.4" cy="96.9" r="3.55" fill="#74ADD1"/>
<circle cx="423.8" cy="101.4" r="3.55" fill="#4575B4"/>
<circle cx="459.0" cy="97.0" r="3.55" fill="#74ADD1"/>
<polygon points="453.0,85.7 448.1,94.3 457.9,94.3" fill="#4575B4"/>
<circle cx="450.0" cy="95.3" r="3.55" fill="#FDAE61"/>
<circle cx="455.5" cy="98.0" r="3.55" fill="#F46D43"/>
<circle cx="448.0" cy="100.4" r="3.55" fill="#E0F3F8"/>
<circle cx="455.1" cy="105.9" r="3.55" fill="#D73027"/>
<circle cx="455.1" cy="102.4" r="3.55" fill="#ABD9E9"/>
<circle cx="454.1" cy="112.0" r="3.55" fill="#4575B4"/>
<circle cx="474.5" cy="91.8" r="3.55" fill="#FEE090"/>
<circle cx="477.4" cy="104.5" r="3.55" fill="#D73027"/>
<circle cx="474.9" cy="111.0" r="3.55" fill="#F46D43"/>
<polygon points="451.8,117.6 446.9,126.2 456.8,126.2" fill="#4575B4"/>
<polygon points="473.9,129.9 468.9,138.5 478.8,138.5" fill="#FDAE61"/>
<polygon points="475.1,130.3 470.2,138.9 480.1,138.9" fill="#F46D43"/>
<polygon points="467.2,145.8 462.2,154.4 472.1,154.4" fill="#E0F3F8"/>
<circle cx="475.1" cy="171.6" r="3.55" fill="#D73027"/>
<circle cx="476.6" cy="185.0" r="3.55" fill="#F46D43"/>
</g>
<rect x="74.9" y="26.5" width="516.0" height="233.6" fill="none" stroke="#333" stroke-width="1.45"/>
<g stroke="#333" stroke-width="1.7">
<line x1="97.7" y1="260.1" x2="97.7" y2="267.1"/>
<line x1="173.8" y1="260.1" x2="173.8" y2="267.1"/>
<line x1="249.9" y1="260.1" x2="249.9" y2="267.1"/>
<line x1="326.0" y1="260.1" x2="326.0" y2="267.1"/>
<line x1="402.1" y1="260.1" x2="402.1" y2="267.1"/>
<line x1="478.2" y1="260.1" x2="478.2" y2="267.1"/>
<line x1="554.3" y1="260.1" x2="554.3" y2="267.1"/>
<line x1="68.4" y1="79.2" x2="74.9" y2="79.2"/>
<line x1="68.4" y1="142.6" x2="74.9" y2="142.6"/>
<line x1="68.4" y1="206.0" x2="74.9" y2="206.0"/>
</g>
<g font-size="12.2" fill="#4D4D4D" style="letter-spacing:0.25px">
<text x="97.7" y="281.8" text-anchor="middle">−180</text>
<text x="173.8" y="281.8" text-anchor="middle">−120</text>
<text x="249.9" y="281.8" text-anchor="middle">−60</text>
<text x="326.0" y="281.8" text-anchor="middle">0</text>
<text x="402.1" y="281.8" text-anchor="middle">60</text>
<text x="478.2" y="281.8" text-anchor="middle">120</text>
<text x="554.3" y="281.8" text-anchor="middle">180</text>
<text x="63.6" y="83.6" text-anchor="end">50</text>
<text x="63.6" y="147.0" text-anchor="end">0</text>
<text x="63.6" y="210.4" text-anchor="end">−50</text>
</g>
<text x="0" y="10" font-size="15" fill="#000">a</text>
<text x="333" y="301" font-size="15.4" text-anchor="middle" fill="#000">Longitude (°E)</text>
<text transform="translate(32,143.8) rotate(-90)" font-size="15.35" text-anchor="middle" fill="#000">Latitude (°N)</text>
<rect x="300.00" y="331.9" width="35.25" height="10.6" fill="#D73027"/>
<rect x="334.95" y="331.9" width="35.25" height="10.6" fill="#F46D43"/>
<rect x="369.90" y="331.9" width="35.25" height="10.6" fill="#FDAE61"/>
<rect x="404.85" y="331.9" width="35.25" height="10.6" fill="#FEE090"/>
<rect x="439.80" y="331.9" width="35.25" height="10.6" fill="#E0F3F8"/>
<rect x="474.75" y="331.9" width="35.25" height="10.6" fill="#ABD9E9"/>
<rect x="509.70" y="331.9" width="35.25" height="10.6" fill="#74ADD1"/>
<rect x="544.65" y="331.9" width="35.25" height="10.6" fill="#4575B4"/>
<g stroke="#333" stroke-width="0.9">
<line x1="334.95" y1="331.9" x2="334.95" y2="334.2"/><line x1="334.95" y1="340.2" x2="334.95" y2="342.5"/>
<line x1="369.90" y1="331.9" x2="369.90" y2="334.2"/><line x1="369.90" y1="340.2" x2="369.90" y2="342.5"/>
<line x1="404.85" y1="331.9" x2="404.85" y2="334.2"/><line x1="404.85" y1="340.2" x2="404.85" y2="342.5"/>
<line x1="439.80" y1="331.9" x2="439.80" y2="334.2"/><line x1="439.80" y1="340.2" x2="439.80" y2="342.5"/>
<line x1="474.75" y1="331.9" x2="474.75" y2="334.2"/><line x1="474.75" y1="340.2" x2="474.75" y2="342.5"/>
<line x1="509.70" y1="331.9" x2="509.70" y2="334.2"/><line x1="509.70" y1="340.2" x2="509.70" y2="342.5"/>
<line x1="544.65" y1="331.9" x2="544.65" y2="334.2"/><line x1="544.65" y1="340.2" x2="544.65" y2="342.5"/>
</g>
<g font-size="13.2" fill="#000">
<text x="334.95" y="360.4" text-anchor="middle">−1.5</text>
<text x="369.90" y="360.4" text-anchor="middle">−1.0</text>
<text x="404.85" y="360.4" text-anchor="middle">−0.5</text>
<text x="439.80" y="360.4" text-anchor="middle">0.0</text>
<text x="474.75" y="360.4" text-anchor="middle">0.5</text>
<text x="509.70" y="360.4" text-anchor="middle">1.0</text>
<text x="544.65" y="360.4" text-anchor="middle">1.5</text>
</g>
<text x="133.6" y="346.7" font-size="17.3" fill="#000" style="word-spacing:1.7px">Change in S<tspan font-style="italic" font-size="12.4" dy="3.6">W</tspan></text>
<text x="86" y="381" font-size="17.3" fill="#000" style="word-spacing:0.3px">(μmol mol<tspan font-size="11.3" dy="-6.5">−1</tspan><tspan dy="6.5" dx="1.2"> per unit SPEI)</tspan></text>
<path d="M84.07,624.80C84.32,624.77 85.04,624.52 85.60,624.60C86.16,624.68 86.81,625.05 87.40,625.30C87.99,625.55 88.57,625.97 89.15,626.10C89.73,626.23 90.32,626.27 90.90,626.10C91.48,625.93 92.07,625.63 92.65,625.10C93.23,624.57 93.81,623.71 94.40,622.90C94.99,622.09 95.62,621.13 96.20,620.25C96.78,619.37 97.32,618.36 97.90,617.60C98.48,616.84 99.12,616.15 99.70,615.70C100.28,615.25 100.77,614.95 101.40,614.90C102.03,614.85 102.77,615.09 103.50,615.40C104.23,615.71 104.98,616.38 105.80,616.75C106.62,617.12 107.53,617.60 108.40,617.60C109.27,617.60 110.17,617.48 111.00,616.75C111.83,616.02 112.43,614.88 113.35,613.23C114.28,611.57 115.49,609.21 116.56,606.80C117.63,604.40 118.70,601.35 119.78,598.78C120.85,596.21 121.92,593.53 122.99,591.39C124.06,589.25 125.13,587.64 126.20,585.93C127.27,584.22 128.34,583.52 129.41,581.11C130.48,578.71 131.55,575.49 132.62,571.48C133.69,567.47 134.76,563.18 135.83,557.03C136.90,550.87 137.97,542.85 139.04,534.55C140.11,526.25 141.18,516.35 142.25,507.25C143.32,498.16 144.40,487.99 145.47,479.96C146.54,471.93 147.71,464.17 148.68,459.08C149.64,454.00 150.44,451.32 151.25,449.45C152.05,447.58 152.74,447.68 153.49,447.85C154.24,448.01 154.94,448.54 155.74,450.41C156.54,452.29 157.35,454.70 158.31,459.08C159.27,463.47 160.45,470.32 161.52,476.75C162.59,483.17 163.66,491.20 164.73,497.62C165.80,504.04 166.87,509.93 167.94,515.28C169.02,520.63 170.09,524.92 171.16,529.73C172.23,534.55 173.30,538.83 174.37,544.18C175.44,549.54 176.51,556.23 177.58,561.85C178.65,567.47 179.72,572.82 180.79,577.90C181.86,582.99 182.93,588.07 184.00,592.35C185.07,596.64 186.14,600.38 187.21,603.59C188.28,606.80 189.35,609.21 190.42,611.62C191.49,614.03 192.56,616.17 193.64,618.04C194.71,619.92 195.78,621.52 196.85,622.86C197.92,624.20 198.99,625.16 200.06,626.07C201.13,626.98 202.20,627.84 203.27,628.32C204.34,628.80 205.41,628.80 206.48,628.96C207.55,629.12 208.62,629.34 209.69,629.28C210.76,629.23 211.83,629.02 212.90,628.64C213.97,628.27 215.04,627.52 216.11,627.04C217.18,626.55 218.26,626.07 219.33,625.75C220.40,625.43 221.47,625.11 222.54,625.11C223.61,625.11 224.68,625.43 225.75,625.75C226.82,626.07 227.89,626.61 228.96,627.04C230.03,627.46 230.83,628.00 232.17,628.32C233.51,628.64 234.04,628.80 236.99,628.96C239.93,629.12 246.09,629.28 249.83,629.28C253.58,629.28 257.06,629.12 259.47,628.96C261.88,628.80 262.95,628.64 264.28,628.32C265.62,628.00 266.42,627.52 267.50,627.04C268.57,626.55 269.80,625.86 270.71,625.43C271.62,625.00 272.58,624.63 272.95,624.47L273.0,629.3L84.1,629.3Z" fill="#5E3C99" fill-opacity="0.5"/>
<path d="M84.07,624.80C84.32,624.77 85.04,624.52 85.60,624.60C86.16,624.68 86.81,625.05 87.40,625.30C87.99,625.55 88.57,625.97 89.15,626.10C89.73,626.23 90.32,626.27 90.90,626.10C91.48,625.93 92.07,625.63 92.65,625.10C93.23,624.57 93.81,623.71 94.40,622.90C94.99,622.09 95.62,621.13 96.20,620.25C96.78,619.37 97.32,618.36 97.90,617.60C98.48,616.84 99.12,616.15 99.70,615.70C100.28,615.25 100.77,614.95 101.40,614.90C102.03,614.85 102.77,615.09 103.50,615.40C104.23,615.71 104.98,616.38 105.80,616.75C106.62,617.12 107.53,617.60 108.40,617.60C109.27,617.60 110.17,617.48 111.00,616.75C111.83,616.02 112.43,614.88 113.35,613.23C114.28,611.57 115.49,609.21 116.56,606.80C117.63,604.40 118.70,601.35 119.78,598.78C120.85,596.21 121.92,593.53 122.99,591.39C124.06,589.25 125.13,587.64 126.20,585.93C127.27,584.22 128.34,583.52 129.41,581.11C130.48,578.71 131.55,575.49 132.62,571.48C133.69,567.47 134.76,563.18 135.83,557.03C136.90,550.87 137.97,542.85 139.04,534.55C140.11,526.25 141.18,516.35 142.25,507.25C143.32,498.16 144.40,487.99 145.47,479.96C146.54,471.93 147.71,464.17 148.68,459.08C149.64,454.00 150.44,451.32 151.25,449.45C152.05,447.58 152.74,447.68 153.49,447.85C154.24,448.01 154.94,448.54 155.74,450.41C156.54,452.29 157.35,454.70 158.31,459.08C159.27,463.47 160.45,470.32 161.52,476.75C162.59,483.17 163.66,491.20 164.73,497.62C165.80,504.04 166.87,509.93 167.94,515.28C169.02,520.63 170.09,524.92 171.16,529.73C172.23,534.55 173.30,538.83 174.37,544.18C175.44,549.54 176.51,556.23 177.58,561.85C178.65,567.47 179.72,572.82 180.79,577.90C181.86,582.99 182.93,588.07 184.00,592.35C185.07,596.64 186.14,600.38 187.21,603.59C188.28,606.80 189.35,609.21 190.42,611.62C191.49,614.03 192.56,616.17 193.64,618.04C194.71,619.92 195.78,621.52 196.85,622.86C197.92,624.20 198.99,625.16 200.06,626.07C201.13,626.98 202.20,627.84 203.27,628.32C204.34,628.80 205.41,628.80 206.48,628.96C207.55,629.12 208.62,629.34 209.69,629.28C210.76,629.23 211.83,629.02 212.90,628.64C213.97,628.27 215.04,627.52 216.11,627.04C217.18,626.55 218.26,626.07 219.33,625.75C220.40,625.43 221.47,625.11 222.54,625.11C223.61,625.11 224.68,625.43 225.75,625.75C226.82,626.07 227.89,626.61 228.96,627.04C230.03,627.46 230.83,628.00 232.17,628.32C233.51,628.64 234.04,628.80 236.99,628.96C239.93,629.12 246.09,629.28 249.83,629.28C253.58,629.28 257.06,629.12 259.47,628.96C261.88,628.80 262.95,628.64 264.28,628.32C265.62,628.00 266.42,627.52 267.50,627.04C268.57,626.55 269.80,625.86 270.71,625.43C271.62,625.00 272.58,624.63 272.95,624.47" fill="none" stroke="#5E3C99" stroke-width="2.4" stroke-linejoin="round"/>
<line x1="157.4" y1="441.25" x2="157.4" y2="636.9" stroke="#000" stroke-width="2.45" stroke-dasharray="8.9,9.95"/>
<rect x="75.0" y="439.9" width="206.9" height="197.0" fill="none" stroke="#333" stroke-width="1.5"/>
<g stroke="#333" stroke-width="2.1">
<line x1="108.0" y1="636.9" x2="108.0" y2="643.4"/>
<line x1="157.5" y1="636.9" x2="157.5" y2="643.4"/>
<line x1="207.0" y1="636.9" x2="207.0" y2="643.4"/>
<line x1="256.5" y1="636.9" x2="256.5" y2="643.4"/>
<line x1="68.5" y1="629.0" x2="75.0" y2="629.0"/>
<line x1="68.5" y1="592.1" x2="75.0" y2="592.1"/>
<line x1="68.5" y1="555.3" x2="75.0" y2="555.3"/>
<line x1="68.5" y1="518.5" x2="75.0" y2="518.5"/>
<line x1="68.5" y1="481.6" x2="75.0" y2="481.6"/>
<line x1="68.5" y1="444.8" x2="75.0" y2="444.8"/>
</g>
<g font-size="14.9" fill="#4D4D4D" style="letter-spacing:0.4px">
<text x="108.0" y="660" text-anchor="middle">−5</text>
<text x="157.5" y="660" text-anchor="middle">0</text>
<text x="207.0" y="660" text-anchor="middle">5</text>
<text x="256.5" y="660" text-anchor="middle">10</text>
<text x="64" y="634.3" text-anchor="end">0.00</text>
<text x="64" y="597.4" text-anchor="end">0.05</text>
<text x="64" y="560.6" text-anchor="end">0.10</text>
<text x="64" y="523.8" text-anchor="end">0.15</text>
<text x="64" y="486.9" text-anchor="end">0.20</text>
<text x="64" y="450.1" text-anchor="end">0.25</text>
</g>
<text x="0" y="437.5" font-size="15" fill="#000">b</text>
<text transform="translate(23.3,538.3) rotate(-90)" font-size="19.5" text-anchor="middle" fill="#000">Density</text>
<text x="118.3" y="682.5" font-size="19.2" fill="#000" style="word-spacing:1.9px">Change in S<tspan font-style="italic" font-size="13.8" dy="4.8">W</tspan></text>
<clipPath id="cc"><rect x="383.6" y="440.0" width="206.7" height="196.8"/></clipPath>
<g clip-path="url(#cc)" fill="none" stroke-width="1.8" stroke-opacity="0.8">
<circle cx="464.8" cy="485.5" r="6.0" stroke="#D73027"/>
<circle cx="457.8" cy="491.7" r="6.0" stroke="#ABD9E9"/>
<circle cx="458.7" cy="495.2" r="6.0" stroke="#F46D43"/>
<polygon points="478.8,501.3 470.9,514.9 486.7,514.9" stroke="#F46D43"/>
<polygon points="455.7,507.5 447.8,521.1 463.6,521.1" stroke="#4575B4"/>
<circle cx="456.1" cy="516.2" r="6.0" stroke="#D9C7CC"/>
<circle cx="470.1" cy="524.1" r="6.0" stroke="#FEE090"/>
<polygon points="493.7,512.2 485.8,525.8 501.6,525.8" stroke="#4575B4"/>
<polygon points="491.1,522.9 483.2,536.5 499.0,536.5" stroke="#D9A066"/>
<circle cx="464.5" cy="535.5" r="6.0" stroke="#E0F3F8"/>
<circle cx="500.4" cy="525.8" r="6.0" stroke="#F46D43"/>
<polygon points="569.3,439.7 561.4,453.3 577.2,453.3" stroke="#FEE090"/>
<polygon points="575.5,460.9 567.6,474.5 583.4,474.5" stroke="#E0F3F8"/>
<polygon points="572.3,454.9 564.4,468.5 580.2,468.5" stroke="#A51431"/>
<polygon points="568.5,461.2 560.6,474.8 576.4,474.8" stroke="#D73027"/>
<polygon points="581.3,492.4 573.4,506.0 589.2,506.0" stroke="#E0F3F8"/>
<polygon points="572.0,530.4 564.1,544.0 579.9,544.0" stroke="#4575B4"/>
<circle cx="540.1" cy="529.3" r="6.0" stroke="#F46D43"/>
<polygon points="500.7,526.4 492.8,540.0 508.6,540.0" stroke="#D73027"/>
<circle cx="521.2" cy="539.0" r="6.0" stroke="#D73027"/>
<circle cx="512.4" cy="541.5" r="6.0" stroke="#FDAE61"/>
<circle cx="397.9" cy="620.0" r="6.0" stroke="#FEE090"/>
<circle cx="391.8" cy="621.7" r="6.0" stroke="#74ADD1"/>
<circle cx="394.7" cy="616.8" r="6.0" stroke="#D73027"/>
<circle cx="415.4" cy="606.0" r="6.0" stroke="#D73027"/>
<circle cx="413.1" cy="613.0" r="6.0" stroke="#BFD9CC"/>
<circle cx="407.5" cy="616.5" r="6.0" stroke="#ABD9E9"/>
<circle cx="409.3" cy="617.3" r="6.0" stroke="#FEE090"/>
<circle cx="413.7" cy="619.6" r="6.0" stroke="#4575B4"/>
<circle cx="410.7" cy="621.7" r="6.0" stroke="#74ADD1"/>
<circle cx="435.0" cy="614.2" r="6.0" stroke="#E0F3F8"/>
<circle cx="442.6" cy="612.1" r="6.0" stroke="#4575B4"/>
<circle cx="441.7" cy="599.8" r="6.0" stroke="#FEE090"/>
<circle cx="448.7" cy="598.9" r="6.0" stroke="#FDAE61"/>
<circle cx="445.2" cy="604.2" r="6.0" stroke="#FDAE61"/>
<circle cx="452.2" cy="605.1" r="6.0" stroke="#F46D43"/>
<circle cx="450.5" cy="611.2" r="6.0" stroke="#D73027"/>
<circle cx="457.5" cy="608.6" r="6.0" stroke="#F46D43"/>
<circle cx="447.8" cy="620.8" r="6.0" stroke="#4575B4"/>
<circle cx="440.8" cy="624.3" r="6.0" stroke="#FDAE61"/>
<circle cx="455.7" cy="589.3" r="6.0" stroke="#4575B4"/>
<circle cx="456.6" cy="586.7" r="6.0" stroke="#FEE090"/>
<circle cx="467.6" cy="585.3" r="6.0" stroke="#D73027"/>
<circle cx="468.8" cy="594.6" r="6.0" stroke="#E0F3F8"/>
<circle cx="463.2" cy="601.6" r="6.0" stroke="#FDAE61"/>
<circle cx="468.0" cy="609.5" r="6.0" stroke="#74ADD1"/>
<circle cx="463.6" cy="618.2" r="6.0" stroke="#BFD9CC"/>
<circle cx="478.5" cy="622.6" r="6.0" stroke="#FDAE61"/>
<circle cx="483.7" cy="624.3" r="6.0" stroke="#D73027"/>
<polygon points="494.2,618.9 486.3,632.5 502.1,632.5" stroke="#4575B4"/>
<circle cx="476.7" cy="592.8" r="6.0" stroke="#4575B4"/>
<polygon points="476.7,585.9 468.8,599.5 484.6,599.5" stroke="#4575B4"/>
<circle cx="485.5" cy="600.7" r="6.0" stroke="#D73027"/>
<circle cx="488.1" cy="592.8" r="6.0" stroke="#D73027"/>
<circle cx="496.9" cy="596.3" r="6.0" stroke="#D73027"/>
<circle cx="497.8" cy="577.0" r="6.0" stroke="#D73027"/>
<circle cx="495.1" cy="569.2" r="6.0" stroke="#4575B4"/>
<circle cx="485.5" cy="607.7" r="6.0" stroke="#74ADD1"/>
<circle cx="500.4" cy="609.5" r="6.0" stroke="#4575B4"/>
<polygon points="488.1,569.7 480.2,583.3 496.0,583.3" stroke="#F46D43"/>
<circle cx="489.9" cy="585.8" r="6.0" stroke="#FDAE61"/>
<circle cx="480.6" cy="547.6" r="6.0" stroke="#76759F"/>
<polygon points="484.6,553.1 476.7,566.7 492.5,566.7" stroke="#D9C7CC"/>
<circle cx="484.6" cy="562.2" r="6.0" stroke="#FDC58A"/>
<polygon points="500.4,539.9 492.5,553.5 508.3,553.5" stroke="#F46D43"/>
<polygon points="571.2,548.2 563.3,561.8 579.1,561.8" stroke="#FDC58A"/>
<polygon points="563.0,595.6 555.1,609.2 570.9,609.2" stroke="#D73027"/>
<polygon points="560.5,606.1 552.6,619.7 568.4,619.7" stroke="#D73027"/>
<circle cx="570.2" cy="611.7" r="6.0" stroke="#D73027"/>
<circle cx="536.8" cy="559.2" r="6.0" stroke="#4575B4"/>
<polygon points="514.6,544.4 506.7,558.0 522.5,558.0" stroke="#FDAE61"/>
<polygon points="513.7,553.9 505.8,567.5 521.6,567.5" stroke="#F46D43"/>
<circle cx="502.3" cy="563.9" r="6.0" stroke="#FEE090"/>
<circle cx="504.2" cy="571.5" r="6.0" stroke="#ABD9E9"/>
<circle cx="521.2" cy="574.3" r="6.0" stroke="#74ADD1"/>
<circle cx="523.1" cy="572.4" r="6.0" stroke="#ABD9E9"/>
<polygon points="531.1,574.7 523.2,588.3 539.0,588.3" stroke="#56789F"/>
<polygon points="520.3,576.6 512.4,590.2 528.2,590.2" stroke="#FEE090"/>
<circle cx="500.4" cy="582.9" r="6.0" stroke="#4575B4"/>
<circle cx="488.6" cy="586.7" r="6.0" stroke="#F46D43"/>
<circle cx="492.8" cy="591.4" r="6.0" stroke="#D73027"/>
<circle cx="498.5" cy="598.1" r="6.0" stroke="#D73027"/>
<circle cx="486.1" cy="600.0" r="6.0" stroke="#D73027"/>
<circle cx="517.4" cy="590.5" r="6.0" stroke="#F46D43"/>
<circle cx="514.6" cy="589.5" r="6.0" stroke="#FDAE61"/>
<circle cx="503.2" cy="601.9" r="6.0" stroke="#FEE090"/>
<circle cx="534.0" cy="598.1" r="6.0" stroke="#D73027"/>
<circle cx="519.7" cy="605.7" r="6.0" stroke="#74ADD1"/>
<circle cx="525.0" cy="609.5" r="6.0" stroke="#D73027"/>
<circle cx="531.7" cy="612.3" r="6.0" stroke="#F46D43"/>
<circle cx="518.4" cy="621.8" r="6.0" stroke="#ABD9E9"/>
<polygon points="518.4,612.1 510.5,625.7 526.3,625.7" stroke="#FDAE61"/>
<circle cx="504.0" cy="590.0" r="6.0" stroke="#ABD9E9"/>
<circle cx="508.0" cy="594.0" r="6.0" stroke="#D73027"/>
</g>
<rect x="383.6" y="440.0" width="206.7" height="196.8" fill="none" stroke="#333" stroke-width="1.5"/>
<g stroke="#333" stroke-width="2.1">
<line x1="410.6" y1="636.8" x2="410.6" y2="643.3"/>
<line x1="456.3" y1="636.8" x2="456.3" y2="643.3"/>
<line x1="502.0" y1="636.8" x2="502.0" y2="643.3"/>
<line x1="547.7" y1="636.8" x2="547.7" y2="643.3"/>
<line x1="377.1" y1="601.9" x2="383.6" y2="601.9"/>
<line x1="377.1" y1="568.1" x2="383.6" y2="568.1"/>
<line x1="377.1" y1="534.3" x2="383.6" y2="534.3"/>
<line x1="377.1" y1="500.5" x2="383.6" y2="500.5"/>
<line x1="377.1" y1="466.7" x2="383.6" y2="466.7"/>
</g>
<g font-size="14.9" fill="#4D4D4D" style="letter-spacing:0.4px">
<text x="410.6" y="661" text-anchor="middle">−10</text>
<text x="456.3" y="661" text-anchor="middle">0</text>
<text x="502.0" y="661" text-anchor="middle">10</text>
<text x="547.7" y="661" text-anchor="middle">20</text>
<text x="372" y="607.2" text-anchor="end">500</text>
<text x="372" y="573.4" text-anchor="end">1000</text>
<text x="372" y="539.6" text-anchor="end">1500</text>
<text x="372" y="505.8" text-anchor="end">2000</text>
<text x="372" y="472.0" text-anchor="end">2500</text>
</g>
<text x="307" y="437.5" font-size="15" fill="#000">c</text>
<text transform="translate(328,538.7) rotate(-90)" font-size="17.9" text-anchor="middle" fill="#000">MAP (mm)</text>
<text x="487" y="683" font-size="17.5" text-anchor="middle" fill="#000">MAT (°C)</text>
<rect x="626.9" y="447.00" width="21.7" height="23.96" fill="#4575B4"/>
<rect x="626.9" y="470.66" width="21.7" height="23.96" fill="#74ADD1"/>
<rect x="626.9" y="494.32" width="21.7" height="23.96" fill="#ABD9E9"/>
<rect x="626.9" y="517.99" width="21.7" height="23.96" fill="#E0F3F8"/>
<rect x="626.9" y="541.65" width="21.7" height="23.96" fill="#FEE090"/>
<rect x="626.9" y="565.31" width="21.7" height="23.96" fill="#FDAE61"/>
<rect x="626.9" y="588.97" width="21.7" height="23.96" fill="#F46D43"/>
<rect x="626.9" y="612.64" width="21.7" height="23.96" fill="#D73027"/>
<g font-size="14.7" fill="#000">
<text x="656" y="476.46">1.5</text>
<text x="656" y="500.12">1.0</text>
<text x="656" y="523.79">0.5</text>
<text x="656" y="547.45">0.0</text>
<text x="656" y="571.11">−0.5</text>
<text x="656" y="594.77">−1.0</text>
<text x="656" y="618.44">−1.5</text>
</g>
</svg></div></body></html>
